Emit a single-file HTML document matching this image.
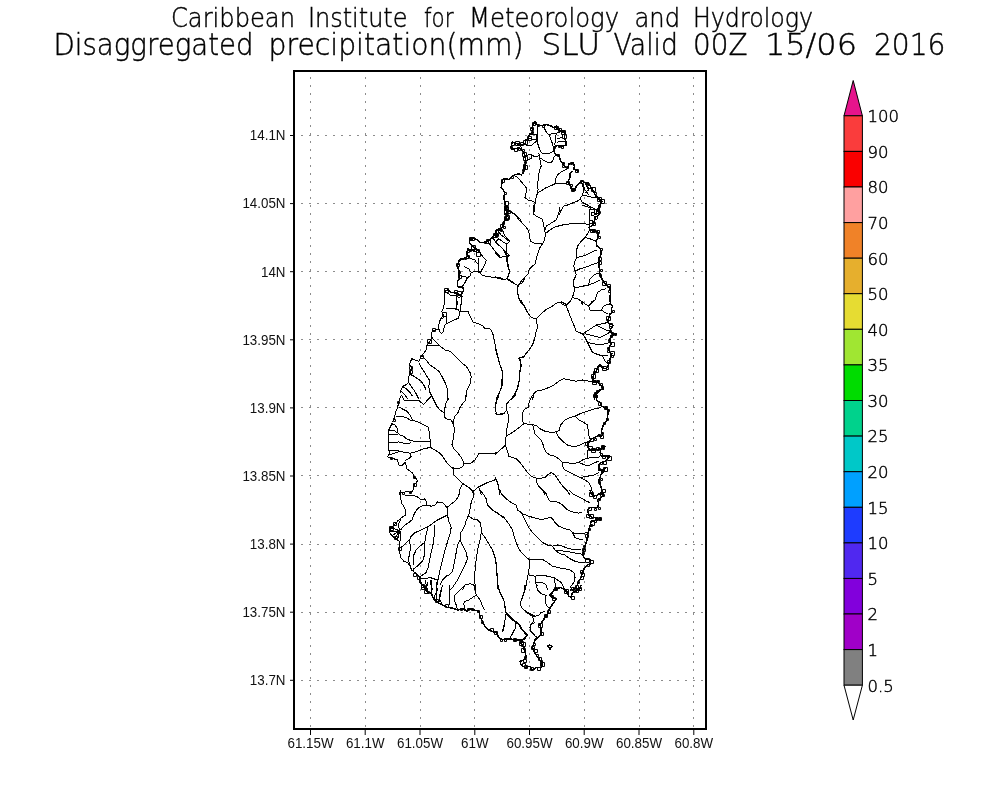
<!DOCTYPE html>
<html><head><meta charset="utf-8"><title>Disaggregated precipitation SLU</title>
<style>
html,body{margin:0;padding:0;background:#fff;width:1000px;height:800px;overflow:hidden}
svg{display:block}
.t{font-family:"DejaVu Sans","Liberation Sans",sans-serif;font-weight:200;fill:#000;stroke:#000;stroke-width:0.45}
.grid line{stroke:#8c8c8c;stroke-width:1;stroke-dasharray:2 6;shape-rendering:crispEdges}
.ticks line{stroke:#000;stroke-width:1}
.lab text{font-family:"Liberation Sans",sans-serif;font-size:14px;fill:#111}
.cbl text{font-family:"DejaVu Sans","Liberation Sans",sans-serif;font-weight:200;font-size:16.5px;fill:#000;stroke:#000;stroke-width:0.45}
.map path{fill:none;stroke:#000;stroke-width:1;stroke-linejoin:round;shape-rendering:crispEdges}
.map path.cs{stroke-width:1.5}
.map path.sq{shape-rendering:auto;stroke-width:1}
</style></head>
<body>
<svg width="1000" height="800" viewBox="0 0 1000 800">
<g id="title">
<text class="t" x="171.00" y="27.2" font-size="26" textLength="124.00" lengthAdjust="spacingAndGlyphs">Caribbean</text>
<text class="t" x="308.00" y="27.2" font-size="26" textLength="99.50" lengthAdjust="spacingAndGlyphs">Institute</text>
<text class="t" x="424.00" y="27.2" font-size="26" textLength="29.50" lengthAdjust="spacingAndGlyphs">for</text>
<text class="t" x="469.00" y="27.2" font-size="26" textLength="150.00" lengthAdjust="spacingAndGlyphs">Meteorology</text>
<text class="t" x="634.50" y="27.2" font-size="26" textLength="45.50" lengthAdjust="spacingAndGlyphs">and</text>
<text class="t" x="693.00" y="27.2" font-size="26" textLength="120.00" lengthAdjust="spacingAndGlyphs">Hydrology</text>
<text class="t" x="53.50" y="54.6" font-size="31" textLength="200.00" lengthAdjust="spacingAndGlyphs">Disaggregated</text>
<text class="t" x="268.50" y="54.6" font-size="31" textLength="255.00" lengthAdjust="spacingAndGlyphs">precipitation(mm)</text>
<text class="t" x="541.50" y="54.6" font-size="31" textLength="58.50" lengthAdjust="spacingAndGlyphs">SLU</text>
<text class="t" x="613.50" y="54.6" font-size="31" textLength="64.50" lengthAdjust="spacingAndGlyphs">Valid</text>
<text class="t" x="693.00" y="54.6" font-size="31" textLength="54.50" lengthAdjust="spacingAndGlyphs">00Z</text>
<text class="t" x="765.00" y="54.6" font-size="31" textLength="92.00" lengthAdjust="spacingAndGlyphs">15/06</text>
<text class="t" x="874.00" y="54.6" font-size="31" textLength="71.50" lengthAdjust="spacingAndGlyphs">2016</text>
</g>
<g class="grid">
<line x1="310.5" y1="77.3" x2="310.5" y2="728"/>
<line x1="365.5" y1="77.3" x2="365.5" y2="728"/>
<line x1="420.5" y1="77.3" x2="420.5" y2="728"/>
<line x1="474.5" y1="77.3" x2="474.5" y2="728"/>
<line x1="529.5" y1="77.3" x2="529.5" y2="728"/>
<line x1="584.5" y1="77.3" x2="584.5" y2="728"/>
<line x1="639.5" y1="77.3" x2="639.5" y2="728"/>
<line x1="693.5" y1="77.3" x2="693.5" y2="728"/>
<line x1="293" y1="135.5" x2="705" y2="135.5"/>
<line x1="293" y1="203.5" x2="705" y2="203.5"/>
<line x1="293" y1="271.5" x2="705" y2="271.5"/>
<line x1="293" y1="339.5" x2="705" y2="339.5"/>
<line x1="293" y1="407.5" x2="705" y2="407.5"/>
<line x1="293" y1="475.5" x2="705" y2="475.5"/>
<line x1="293" y1="544.5" x2="705" y2="544.5"/>
<line x1="293" y1="612.5" x2="705" y2="612.5"/>
<line x1="293" y1="680.5" x2="705" y2="680.5"/>
</g>
<g class="ticks">
<line x1="310.5" y1="729" x2="310.5" y2="735"/>
<line x1="365.2" y1="729" x2="365.2" y2="735"/>
<line x1="420.0" y1="729" x2="420.0" y2="735"/>
<line x1="474.8" y1="729" x2="474.8" y2="735"/>
<line x1="529.5" y1="729" x2="529.5" y2="735"/>
<line x1="584.2" y1="729" x2="584.2" y2="735"/>
<line x1="639.0" y1="729" x2="639.0" y2="735"/>
<line x1="693.8" y1="729" x2="693.8" y2="735"/>
<line x1="290" y1="135.5" x2="294" y2="135.5"/>
<line x1="290" y1="203.6" x2="294" y2="203.6"/>
<line x1="290" y1="271.7" x2="294" y2="271.7"/>
<line x1="290" y1="339.8" x2="294" y2="339.8"/>
<line x1="290" y1="407.9" x2="294" y2="407.9"/>
<line x1="290" y1="476.0" x2="294" y2="476.0"/>
<line x1="290" y1="544.1" x2="294" y2="544.1"/>
<line x1="290" y1="612.2" x2="294" y2="612.2"/>
<line x1="290" y1="680.3" x2="294" y2="680.3"/>
</g>
<g class="lab">
<text x="310.5" y="748" text-anchor="middle" textLength="46.1" lengthAdjust="spacingAndGlyphs">61.15W</text>
<text x="365.2" y="748" text-anchor="middle" textLength="38.6" lengthAdjust="spacingAndGlyphs">61.1W</text>
<text x="420.0" y="748" text-anchor="middle" textLength="46.1" lengthAdjust="spacingAndGlyphs">61.05W</text>
<text x="474.8" y="748" text-anchor="middle" textLength="27.5" lengthAdjust="spacingAndGlyphs">61W</text>
<text x="529.5" y="748" text-anchor="middle" textLength="46.1" lengthAdjust="spacingAndGlyphs">60.95W</text>
<text x="584.2" y="748" text-anchor="middle" textLength="38.6" lengthAdjust="spacingAndGlyphs">60.9W</text>
<text x="639.0" y="748" text-anchor="middle" textLength="46.1" lengthAdjust="spacingAndGlyphs">60.85W</text>
<text x="693.8" y="748" text-anchor="middle" textLength="38.6" lengthAdjust="spacingAndGlyphs">60.8W</text>
<text x="285.5" y="140.3" text-anchor="end" textLength="35.7" lengthAdjust="spacingAndGlyphs">14.1N</text>
<text x="285.5" y="208.4" text-anchor="end" textLength="43.1" lengthAdjust="spacingAndGlyphs">14.05N</text>
<text x="285.5" y="276.5" text-anchor="end" textLength="24.5" lengthAdjust="spacingAndGlyphs">14N</text>
<text x="285.5" y="344.6" text-anchor="end" textLength="43.1" lengthAdjust="spacingAndGlyphs">13.95N</text>
<text x="285.5" y="412.7" text-anchor="end" textLength="35.7" lengthAdjust="spacingAndGlyphs">13.9N</text>
<text x="285.5" y="480.8" text-anchor="end" textLength="43.1" lengthAdjust="spacingAndGlyphs">13.85N</text>
<text x="285.5" y="548.9" text-anchor="end" textLength="35.7" lengthAdjust="spacingAndGlyphs">13.8N</text>
<text x="285.5" y="617.0" text-anchor="end" textLength="43.1" lengthAdjust="spacingAndGlyphs">13.75N</text>
<text x="285.5" y="685.1" text-anchor="end" textLength="35.7" lengthAdjust="spacingAndGlyphs">13.7N</text>
</g>
<g class="cb">
<polygon points="844,115.8 853.2,80.5 862.4,115.8" fill="#e6148c" stroke="#000" stroke-width="1"/>
<rect x="844" y="115.8" width="18.4" height="35.6" fill="#fa3c3c" stroke="#000" stroke-width="1"/>
<rect x="844" y="151.4" width="18.4" height="35.6" fill="#fa0000" stroke="#000" stroke-width="1"/>
<rect x="844" y="187.0" width="18.4" height="35.6" fill="#ffa0a0" stroke="#000" stroke-width="1"/>
<rect x="844" y="222.6" width="18.4" height="35.6" fill="#f08228" stroke="#000" stroke-width="1"/>
<rect x="844" y="258.2" width="18.4" height="35.6" fill="#e6af2d" stroke="#000" stroke-width="1"/>
<rect x="844" y="293.7" width="18.4" height="35.6" fill="#e6dc32" stroke="#000" stroke-width="1"/>
<rect x="844" y="329.3" width="18.4" height="35.6" fill="#a0e632" stroke="#000" stroke-width="1"/>
<rect x="844" y="364.9" width="18.4" height="35.6" fill="#00dc00" stroke="#000" stroke-width="1"/>
<rect x="844" y="400.5" width="18.4" height="35.6" fill="#00d28c" stroke="#000" stroke-width="1"/>
<rect x="844" y="436.1" width="18.4" height="35.6" fill="#00c8c8" stroke="#000" stroke-width="1"/>
<rect x="844" y="471.7" width="18.4" height="35.6" fill="#00a0ff" stroke="#000" stroke-width="1"/>
<rect x="844" y="507.3" width="18.4" height="35.6" fill="#1e3cff" stroke="#000" stroke-width="1"/>
<rect x="844" y="542.9" width="18.4" height="35.6" fill="#5028f0" stroke="#000" stroke-width="1"/>
<rect x="844" y="578.4" width="18.4" height="35.6" fill="#8200dc" stroke="#000" stroke-width="1"/>
<rect x="844" y="614.0" width="18.4" height="35.6" fill="#a000c8" stroke="#000" stroke-width="1"/>
<rect x="844" y="649.6" width="18.4" height="35.6" fill="#808080" stroke="#000" stroke-width="1"/>
<polygon points="844,685.2 853.2,720 862.4,685.2" fill="#fff" stroke="#000" stroke-width="1"/>
</g>
<g class="cbl">
<text x="867.5" y="122.1">100</text>
<text x="867.5" y="157.7">90</text>
<text x="867.5" y="193.3">80</text>
<text x="867.5" y="228.9">70</text>
<text x="867.5" y="264.5">60</text>
<text x="867.5" y="300.0">50</text>
<text x="867.5" y="335.6">40</text>
<text x="867.5" y="371.2">35</text>
<text x="867.5" y="406.8">30</text>
<text x="867.5" y="442.4">25</text>
<text x="867.5" y="478.0">20</text>
<text x="867.5" y="513.6">15</text>
<text x="867.5" y="549.1">10</text>
<text x="867.5" y="584.7">5</text>
<text x="867.5" y="620.3">2</text>
<text x="867.5" y="655.9">1</text>
<text x="867.5" y="691.5">0.5</text>
</g>
<g class="map" id="map">
<path class="ln" d="M537.8 126.2 L537.8 129.4 L537.0 133.4 L537.0 139.0 L537.8 143.8 L539.4 148.6 L541.0 151.8 L542.6 153.4 L548.2 153.4 L551.4 152.6 L553.0 151.0 L553.4 147.0 L552.2 143.0 L550.6 139.0 L549.4 135.0 L546.6 132.6 L545.0 129.4 L544.2 127.0 M549.4 134.6 L553.0 133.4 L556.2 133.4 L561.0 131.8 M556.2 133.4 L555.4 140.6 L554.6 145.4 M557.0 139.0 L561.0 137.8 L564.6 138.2 M557.0 142.2 L561.0 141.4 L565.4 141.8 M529.8 134.2 L536.2 134.2 L536.2 139.0 L531.4 139.0 L528.6 137.8 M525.8 145.4 L531.4 145.4 L536.2 141.4 L537.0 139.0 M525.8 155.8 L530.6 154.2 L532.2 155.8 L537.0 156.6 L538.6 155.8 L540.2 153.4 M526.0 160.6 L529.0 159.8 L531.4 158.2 L531.4 155.8 M519.4 144.6 L521.0 147.0 L521.8 150.2 M538.8 152.5 L539.4 157.5 L540.6 162.5 L541.2 166.2 L539.4 170.0 L538.8 175.0 L538.1 180.0 L537.5 185.0 L538.1 190.0 L536.9 195.0 L535.6 200.0 L535.0 203.8 L534.4 207.5 L533.8 215.0 M539.4 157.5 L545.0 161.2 L550.0 163.1 L552.5 161.2 L553.8 157.5 L556.2 155.0 M538.1 192.5 L542.5 190.0 L546.2 187.5 L550.0 186.2 L555.0 183.8 L555.6 178.8 L557.5 175.0 L561.2 171.9 L565.0 170.0 L567.5 168.8 M555.0 183.8 L561.2 183.1 L566.9 183.1 L568.8 181.2 M513.8 175.0 L517.5 177.5 L520.0 180.0 L523.8 185.0 L526.2 187.5 L526.2 192.5 L525.0 197.5 L528.1 200.0 L532.5 201.2 L535.0 202.5 M505.0 207.5 L508.8 210.0 L512.5 213.8 M581.2 181.2 L582.5 185.0 L583.8 190.0 L582.5 195.0 L580.0 198.8 L577.5 201.2 L573.8 202.5 L567.5 205.0 L563.8 206.2 L561.2 210.0 L559.4 215.0 M582.5 195.0 L587.5 196.2 L592.5 197.5 L597.5 197.5 L600.6 201.2 M580.0 198.8 L582.5 202.5 L587.5 205.0 L591.2 207.5 L595.0 208.8 M585.0 182.5 L587.5 187.5 L588.8 190.0 L585.0 192.5 M587.5 187.5 L591.2 188.8 L593.8 192.5 M568.8 490.0 L572.5 493.8 L577.5 496.2 L582.5 498.8 L586.2 501.2 L590.0 502.5 M543.1 490.0 L546.2 493.8 L547.5 497.5 L550.0 501.2 L553.8 501.2 L558.8 502.5 L562.5 505.0 L566.2 508.8 L570.0 511.2 L575.0 512.5 L578.8 513.1 L582.5 512.5 M495.0 557.5 L496.2 565.0 L497.5 577.5 L498.1 590.0 M495.0 511.2 L500.0 515.0 L505.0 518.8 L508.8 523.8 L512.5 530.0 L513.8 535.0 L516.2 542.5 L518.8 548.8 L522.5 553.8 L526.2 557.5 L530.0 560.0 M500.0 490.0 L501.2 493.8 L506.2 498.8 L511.2 502.5 L516.2 505.0 L517.5 510.0 L521.2 512.5 L522.5 513.8 M522.5 513.8 L528.8 516.2 L535.0 518.1 L541.2 519.4 L546.2 518.8 L550.0 516.9 L552.5 518.8 L555.0 522.5 L558.8 526.2 L565.0 528.8 L570.0 530.0 L572.5 532.5 L575.0 533.8 L580.0 533.8 L585.0 533.1 L587.5 532.5 M572.5 532.5 L575.0 537.5 L580.0 539.4 L582.5 540.0 M521.2 512.5 L523.8 517.5 L526.2 522.5 L528.8 527.5 L532.5 532.5 L537.5 537.5 L542.5 542.5 L547.5 545.0 L552.5 546.2 L555.0 550.0 L560.0 553.8 L565.0 555.0 L570.0 558.8 L575.0 561.2 L580.0 562.5 L585.0 562.5 M552.5 546.2 L557.5 545.0 L562.5 546.2 L568.8 548.8 L575.0 549.4 L581.2 550.0 M555.0 550.0 L565.0 551.2 L572.5 552.5 L580.0 553.8 L582.5 554.4 M530.0 560.0 L536.2 559.4 L542.5 559.4 L547.5 562.5 L552.5 566.2 L557.5 567.5 L565.0 568.8 L570.0 570.0 L573.8 572.5 L575.0 577.5 L573.8 582.5 L570.0 587.5 M530.0 560.0 L529.4 565.0 L528.8 571.2 L527.5 577.5 L526.2 583.8 L525.6 590.0 M529.4 575.0 L535.0 576.2 L541.2 575.0 L547.5 576.2 L553.8 577.5 L557.5 580.0 L561.2 582.5 L563.8 587.5 L565.0 590.0 M535.0 576.2 L535.0 582.5 L537.5 586.2 M536.2 582.5 L542.5 582.5 L546.2 585.0 L547.5 590.0 M553.8 577.5 L555.0 582.5 L556.2 590.0 M436.2 585.0 L437.5 590.0 L435.0 595.0 L433.8 598.8 M442.5 585.0 L441.2 591.2 L440.0 597.5 L438.8 602.5 M450.0 585.0 L449.4 592.5 L450.0 600.0 L448.8 606.2 M465.0 585.0 L460.0 590.0 L455.0 595.0 L454.4 600.0 L456.2 605.0 L457.5 610.0 M473.8 585.0 L475.0 590.0 L476.2 595.0 L472.5 597.5 L468.8 600.0 L465.0 601.2 L463.8 603.8 L465.0 608.8 M476.2 595.0 L479.4 598.8 L481.2 602.5 L483.1 607.5 L485.0 610.0 M498.1 585.0 L500.0 592.5 L503.8 600.0 L505.0 607.5 L506.2 612.5 L505.0 620.0 L503.8 628.8 L502.5 632.5 M506.2 612.5 L510.0 616.2 L513.8 620.0 L517.5 622.5 L520.0 625.0 L522.5 630.0 L526.2 635.0 L525.0 638.8 L520.0 641.2 M516.2 622.5 L515.0 628.8 L512.5 632.5 L510.0 638.8 M525.6 585.0 L523.8 592.5 L521.2 600.0 L520.0 603.8 L522.5 608.8 L527.5 612.5 L532.5 615.0 L535.0 616.2 M535.0 622.5 L530.0 625.0 L530.0 630.0 L532.5 632.5 L535.0 635.0 M497.5 585.0 L500.0 592.5 L503.8 600.0 L505.0 606.2 L505.6 611.2 L506.2 613.8 L505.0 620.0 L503.8 626.2 L502.5 631.2 M506.2 613.8 L510.0 617.5 L512.5 620.0 L516.2 622.5 L518.8 625.0 L521.2 628.8 L525.0 632.5 L527.5 635.0 L525.0 637.5 L521.2 640.0 M516.2 622.5 L515.0 628.8 L512.5 633.8 L510.0 637.5 L510.0 638.8 M525.0 585.0 L524.4 591.2 L522.5 597.5 L520.6 602.5 L521.2 607.5 L525.0 611.2 L528.8 613.8 L532.5 616.2 L535.0 616.2 L538.8 615.0 L541.2 612.5 L545.0 611.2 M532.5 616.2 L533.8 621.2 L531.2 623.8 L530.0 627.5 L531.2 632.5 L535.0 636.2 L537.5 637.5 M536.2 585.0 L537.5 590.0 L541.2 593.8 L545.0 595.0 L547.5 596.2 M545.0 595.0 L545.0 600.0 L546.2 605.0 L548.8 607.5 M446.2 313.2 L446.2 323.8 L444.5 325.5 L443.6 330.8 L441.9 333.4 L440.1 332.5 L438.8 329.0 M442.0 319.0 L445.0 316.0 M590.0 209.5 L589.3 218.0 L589.0 226.0 M590.0 209.5 L599.0 209.0 M591.0 212.0 L594.0 212.0 L594.0 215.0 L591.0 215.0 L591.0 212.0 M594.0 216.0 L597.0 216.0 L597.0 219.0 L594.0 219.0 L594.0 216.0 M590.0 220.0 L592.0 220.0 L592.0 223.0 L590.0 223.0 M583.0 184.0 L585.0 190.0 L589.0 195.0 M390.0 527.0 L400.0 531.0 L389.0 532.0 M391.0 536.0 L400.0 531.0 L394.0 539.0 M397.0 541.0 L400.0 531.0 L400.0 541.0 M401.0 519.0 L398.0 525.0 L400.0 531.0 M420.0 580.0 L424.0 588.0 M428.0 582.0 L426.0 590.0 L428.0 594.0 M432.0 580.0 L431.0 590.0 L433.0 598.0 M437.0 582.0 L436.0 592.0 L437.0 600.0 M441.0 590.0 L439.0 598.0 L442.0 604.0 M560.0 207.5 L558.8 212.5 L556.2 220.0 L550.0 223.8 L546.2 226.2 L545.0 230.0 M582.5 205.0 L587.5 206.9 L591.2 208.8 M533.8 205.0 L533.8 213.8 L536.2 216.2 L541.9 218.8 L543.1 222.5 L544.4 228.8 L545.6 235.0 L544.4 240.0 L542.5 243.8 L540.0 247.5 L538.1 252.5 L536.2 258.8 L535.0 263.8 L532.5 266.2 L529.4 268.8 L528.1 273.8 L524.4 277.5 L521.2 281.2 L518.1 285.6 L517.5 291.2 L518.8 297.5 L521.2 302.5 L522.5 305.0 M545.0 233.8 L550.0 230.0 L555.0 226.9 L562.5 225.0 L570.0 223.8 L580.0 223.1 L585.0 223.8 L588.8 225.0 L590.0 226.9 M542.5 243.8 L537.5 243.8 L532.5 242.5 L530.6 241.2 L529.4 236.2 L528.8 231.2 L526.2 227.5 L522.5 223.8 L520.0 218.8 L516.2 215.0 L512.5 212.5 L508.8 211.2 L507.5 210.0 M496.2 230.0 L502.5 230.0 L505.0 236.2 L510.0 241.2 L506.9 243.8 L503.8 242.5 L498.8 238.8 L495.0 242.5 M495.0 242.5 L500.0 246.2 L503.8 250.0 L506.2 255.0 L508.8 256.2 L505.0 256.2 L500.0 257.5 L497.5 255.0 L495.0 252.5 M506.9 256.2 L507.5 262.5 L508.8 267.5 L509.4 272.5 L507.5 277.5 L505.0 280.0 L502.5 278.8 L500.0 277.5 L495.0 276.9 M507.5 278.8 L511.2 281.2 L515.0 283.8 L518.1 285.6 M590.0 228.8 L587.5 233.8 L585.0 237.5 L581.2 241.2 L577.5 246.2 L576.2 252.5 L576.9 257.5 L575.0 261.2 L573.8 266.2 L575.0 271.2 L576.2 275.0 L573.8 280.0 L573.1 285.0 L575.0 288.1 L573.8 292.5 L572.5 297.5 L570.0 301.2 L567.5 305.0 M576.9 257.5 L582.5 256.2 L588.8 253.8 L593.8 251.2 L596.9 250.0 M585.0 237.5 L590.0 238.8 L596.2 241.2 M575.0 271.2 L580.0 268.8 L585.0 267.5 L591.2 265.0 L595.0 263.8 L598.8 262.5 M575.0 288.1 L582.5 286.2 L588.8 285.0 L593.8 283.1 L600.0 280.0 M588.8 285.0 L589.4 280.0 L592.5 276.2 L596.2 273.8 L600.0 273.1 M572.5 297.5 L577.5 298.8 L581.2 301.2 L582.5 305.0 M553.8 305.0 L557.5 302.5 L561.2 301.9 L565.0 303.8 L567.5 305.0 M590.0 305.0 L595.0 300.0 L597.5 292.5 L601.2 290.0 L606.2 288.8 M507.5 210.0 L512.5 212.5 L516.2 216.2 L520.0 221.2 L525.0 226.2 M496.9 230.0 L501.2 235.0 L506.2 238.8 L510.0 241.9 M492.5 237.5 L496.2 242.5 L500.0 246.2 L503.8 250.0 L508.8 255.0 M487.5 241.2 L491.2 246.2 L495.0 251.2 L498.8 255.0 L500.0 257.5 L506.2 256.2 L510.0 255.0 M506.2 242.5 L506.2 257.5 L507.5 265.0 L509.4 271.2 L508.8 275.0 L506.9 278.8 L510.0 281.2 L515.0 283.8 L518.1 285.6 L522.5 282.5 L525.0 277.5 M518.1 285.6 L517.5 292.5 L518.8 298.8 L522.5 305.0 M480.0 272.5 L482.5 275.6 L490.0 276.9 L497.5 278.1 L500.0 278.8 L503.8 280.0 L506.9 278.8 M480.0 252.5 L482.5 256.2 L486.2 260.0 L485.0 263.8 L483.1 267.5 L481.2 271.2 L480.0 272.5 M478.8 257.5 L478.8 263.8 L478.8 271.2 L480.0 272.5 M467.5 256.2 L471.2 258.8 L475.0 260.0 L476.2 262.5 L478.1 263.8 M463.8 266.2 L468.8 268.8 L471.2 272.5 L476.2 271.2 L480.0 272.5 M458.8 275.0 L462.5 276.2 L467.5 277.5 L470.0 276.2 L471.2 272.5 M467.5 277.5 L465.0 282.5 L462.5 286.2 M445.0 291.2 L450.0 295.0 L455.0 295.0 L458.8 297.5 L462.5 296.2 M456.2 292.5 L456.9 300.0 L457.5 305.0 M461.2 295.0 L461.2 305.0 M456.9 300.0 L456.9 308.8 M446.2 308.8 L452.5 308.1 L458.8 310.0 L459.4 312.5 L458.8 318.1 L452.5 320.6 L446.2 323.8 M460.6 303.8 L460.0 311.2 L468.1 311.2 L470.0 316.2 L473.1 321.9 L478.1 323.8 L482.5 325.6 L485.0 328.8 L490.0 328.8 L492.5 332.5 L493.8 337.5 L495.0 343.8 L496.2 350.0 L498.1 357.5 L500.0 365.0 L502.5 371.2 L502.5 380.0 L501.9 387.5 L499.4 392.5 L497.5 397.5 L496.9 400.0 M520.0 300.0 L525.0 306.2 M431.9 337.5 L436.2 342.5 L440.0 346.2 L445.0 350.0 L450.0 351.2 L453.8 355.0 L457.5 358.8 L461.2 362.5 L466.2 366.2 L470.0 372.5 L471.2 376.2 L470.6 382.5 L468.1 387.5 L466.2 392.5 L465.6 400.0 M428.1 345.0 L438.8 345.0 L440.0 346.2 M422.5 356.2 L426.2 360.0 L430.0 365.0 L433.8 367.5 L438.8 371.2 L441.2 375.0 L443.8 380.0 L446.2 385.0 L447.5 390.0 L448.1 400.0 M418.8 362.5 L421.2 367.5 L423.8 371.2 L426.9 376.2 L429.4 380.0 L428.8 387.5 L430.0 392.5 L432.5 397.5 L433.8 400.0 M409.4 373.8 L413.8 376.2 L417.5 378.8 L421.2 381.2 L423.8 385.0 L426.2 390.0 M408.8 382.5 L411.2 386.2 L413.8 390.0 L416.2 393.8 L418.8 398.8 M402.5 386.2 L406.2 388.8 L410.0 392.5 L412.5 396.2 M401.2 391.2 L405.0 395.0 L407.5 398.8 M518.8 357.5 L525.0 356.9 M518.8 357.5 L520.6 362.5 L520.0 370.0 L519.4 377.5 L518.8 385.0 L516.9 390.0 L513.8 395.0 L511.2 400.0 M520.6 300.0 L523.8 305.0 L527.5 312.5 L531.2 317.5 L536.2 318.8 L541.2 313.8 L546.2 309.4 L551.2 306.9 L556.2 303.1 L560.0 302.5 L563.8 305.0 L566.2 305.6 L571.2 300.0 M536.2 318.8 L537.5 327.5 L536.2 331.2 L535.0 337.5 L532.5 345.0 L528.8 350.0 L525.0 355.0 L521.9 357.5 L518.8 358.1 L520.6 360.0 L521.2 366.2 L520.0 372.5 L519.4 380.0 L517.5 387.5 L515.0 395.0 L511.2 400.0 M495.0 347.5 L497.5 356.2 L500.0 365.0 L502.5 372.5 L501.9 381.2 L501.2 387.5 L498.8 393.8 L497.5 400.0 M566.2 305.6 L568.8 312.5 L571.2 318.8 L573.8 325.0 L576.2 331.2 L582.5 333.8 L585.0 337.5 L587.5 342.5 L590.0 347.5 L592.5 352.5 L598.8 355.0 L602.5 356.2 L605.0 361.2 L608.8 365.0 M580.0 300.0 L585.0 303.8 L588.8 306.2 L590.0 310.0 L595.0 310.0 L601.2 310.0 L605.0 312.5 L608.1 313.8 M588.8 306.2 L591.2 302.5 L593.8 300.0 M601.2 310.0 L603.8 306.2 L607.5 304.4 L610.6 303.8 M582.5 333.8 L588.8 330.0 L596.2 325.0 L602.5 323.8 L607.5 322.5 M596.2 325.0 L601.2 327.5 L606.2 330.0 L610.0 331.2 M585.0 333.8 L592.5 335.6 L600.0 337.5 L605.0 335.0 L609.4 332.5 M587.5 342.5 L593.8 343.8 L600.0 345.0 L605.0 343.8 L610.0 342.5 M592.5 352.5 L600.0 355.0 L607.5 355.0 M532.5 400.0 L533.8 393.8 L536.2 391.2 L542.5 390.0 L548.8 387.5 L553.8 385.0 L558.8 381.2 L563.8 378.8 L570.0 380.0 L576.2 381.2 L582.5 380.0 L588.8 381.2 L592.5 381.9 M402.5 396.2 L403.8 400.0 L412.5 400.0 L418.8 400.6 L423.8 404.4 L427.5 400.0 L431.2 396.2 M407.5 398.8 L405.0 395.0 M412.5 396.2 L411.2 395.0 M418.8 398.8 L416.2 395.0 M431.2 395.0 L433.8 400.0 L436.9 406.2 L440.0 410.0 L443.8 412.5 L445.0 417.5 L447.5 419.4 L451.2 420.0 L453.1 423.8 L454.4 428.8 L453.8 435.0 L453.1 440.0 L451.9 445.0 L453.8 448.8 L457.5 452.5 L461.2 457.5 L463.8 462.5 L463.1 466.2 L460.0 468.1 L455.0 468.8 L452.5 467.5 M447.5 395.0 L448.1 398.8 L446.2 402.5 L445.0 407.5 L444.4 412.5 M466.2 395.0 L465.6 400.0 L462.5 403.8 L460.0 407.5 L458.1 412.5 L455.0 416.2 L453.8 420.0 L453.1 423.8 M497.5 395.0 L496.2 402.5 L495.6 407.5 L496.2 413.8 L500.0 415.0 L503.8 413.8 L505.0 413.1 M399.4 406.9 L403.1 409.4 L406.9 411.2 L410.0 415.0 L412.5 420.0 L417.5 421.9 L422.5 424.4 L428.1 426.9 L429.4 432.5 L430.0 438.8 L430.6 447.5 L435.0 450.0 L438.8 452.5 L442.5 456.2 L445.0 460.0 L447.5 463.8 L450.0 466.2 L453.8 468.8 L453.8 475.0 L457.5 478.8 L461.2 482.5 L465.0 485.0 L468.8 487.5 L472.5 491.2 L473.8 495.0 M395.6 416.2 L401.2 416.2 L406.2 417.5 L410.0 420.0 L412.5 420.6 M391.2 423.8 L395.0 425.0 L396.9 427.5 L397.5 432.5 L400.0 435.0 L403.8 436.2 L406.2 438.8 L411.2 440.6 L417.5 441.9 L422.5 441.2 L427.5 441.2 L430.0 441.9 M388.8 430.0 L393.8 430.0 L396.9 432.5 M388.8 435.0 L392.5 434.4 L397.5 435.0 M389.4 442.5 L393.8 442.5 L398.8 441.9 L403.8 443.1 L407.5 443.8 L411.2 442.5 M389.4 450.0 L395.0 450.0 L400.0 451.2 L405.0 452.5 L410.0 453.1 L413.8 452.5 L418.8 450.6 L423.8 448.8 L430.0 447.5 M389.4 455.0 L392.5 453.8 L396.2 452.5 L398.8 451.9 M410.0 453.1 L411.2 456.2 L408.8 458.8 L406.2 460.0 L404.4 461.2 M463.8 463.1 L470.0 463.8 L475.0 460.0 L478.8 453.8 L486.2 453.8 L492.5 453.8 L497.5 452.5 L501.2 448.8 L505.0 445.6 M462.5 483.8 L460.0 488.8 L459.4 495.0 M473.8 491.2 L477.5 487.5 L482.5 485.0 L487.5 482.5 L491.2 481.2 L496.2 479.4 L497.5 482.5 L498.8 487.5 L500.0 493.8 M478.8 487.5 L480.0 491.2 L481.2 495.0 M516.2 395.0 L510.0 400.0 L506.9 403.8 L506.2 407.5 L507.5 412.5 L508.8 416.2 L508.1 422.5 L506.9 428.8 L506.2 436.2 L505.0 441.2 L505.6 446.2 M497.5 395.0 L496.2 401.2 L495.0 405.0 M495.0 413.8 L498.8 414.4 L503.8 413.1 L506.2 411.2 M532.5 395.0 L530.0 400.0 L528.8 403.8 L528.1 407.5 L525.0 408.8 L523.1 411.2 L522.5 417.5 L523.1 422.5 L523.8 423.8 M523.8 423.8 L532.5 424.4 L537.5 426.2 L540.0 428.8 L545.0 431.2 L551.2 432.5 L556.2 431.9 L559.4 430.0 L560.6 425.0 L565.0 420.0 L570.0 417.5 L575.0 416.2 L580.0 413.8 L585.0 411.9 L588.8 410.6 L595.0 408.8 L601.2 407.5 M523.8 423.8 L517.5 428.8 L512.5 432.5 L506.2 436.2 M505.6 446.2 L501.2 448.8 L497.5 452.5 L495.0 455.0 M505.6 446.2 L507.5 451.2 L508.8 456.2 L512.5 457.5 L516.2 458.8 L520.0 462.5 L523.8 467.5 L527.5 472.5 L531.2 476.2 L536.2 478.1 L541.2 478.1 L545.0 477.5 L547.5 475.0 L551.2 472.5 L555.0 475.0 L557.5 478.8 L560.0 482.5 L563.8 487.5 L567.5 491.2 L570.0 495.0 M536.2 478.1 L536.9 482.5 L538.8 486.2 L542.5 490.0 L545.0 495.0 M532.5 424.4 L533.8 428.8 L535.0 433.8 L540.0 438.8 L542.5 442.5 L543.8 447.5 L546.2 452.5 L550.0 455.0 L555.0 456.2 L558.8 458.8 L562.5 462.5 L570.0 463.1 L575.0 463.1 L578.8 462.5 L582.5 460.0 L587.5 458.1 L595.0 457.5 L600.0 456.9 M562.5 462.5 L563.1 467.5 L565.0 470.0 L570.0 472.5 L575.0 475.0 L580.0 477.5 L585.0 480.0 L588.8 482.5 L591.2 487.5 L592.5 492.5 L593.8 495.0 M556.2 432.5 L558.8 437.5 L562.5 441.2 L567.5 445.0 L573.8 446.9 L580.0 445.0 L585.0 442.5 L589.4 441.2 M575.0 416.2 L578.8 420.0 L583.8 422.5 L587.5 425.0 L588.1 430.0 L588.8 435.0 L589.4 438.8 M578.8 462.5 L585.0 465.0 L590.0 465.0 L595.0 462.5 L598.8 461.2 M580.0 477.5 L587.5 476.2 L593.8 475.0 L598.8 472.5 M587.5 450.0 L587.5 455.0 L587.5 458.1 M495.0 477.5 L497.5 482.5 L498.8 488.8 L500.0 495.0 M459.4 490.0 L458.8 496.2 L455.0 501.2 L450.0 505.0 L446.9 507.5 M473.1 490.0 L473.1 497.5 L471.2 502.5 L470.0 508.8 L468.8 515.0 L467.5 517.5 M480.0 490.0 L483.8 495.0 L486.2 498.8 L487.5 505.0 L492.5 510.0 L500.0 515.0 L505.0 517.5 M500.0 490.0 L501.2 493.8 L505.0 497.5 M405.0 495.0 L413.8 495.6 L418.8 497.5 L421.2 500.0 L424.4 498.8 L426.2 501.2 L426.9 505.0 L431.2 506.2 L435.0 505.0 L437.5 501.9 L442.5 502.5 L445.0 505.0 L446.9 507.5 L447.5 512.5 L447.5 515.0 M426.9 505.0 L421.2 506.2 L417.5 508.8 L415.0 512.5 L413.8 515.0 L411.9 520.0 L408.8 522.5 L405.0 525.0 L402.5 527.5 L400.6 530.0 M447.5 515.0 L442.5 517.5 L437.5 520.0 L433.8 522.5 L428.8 526.2 L423.8 528.8 L418.8 531.2 L415.0 532.5 L411.2 536.2 L409.4 540.0 L405.0 543.8 L401.2 547.5 M447.5 515.0 L448.8 521.2 L451.2 527.5 L450.0 533.8 L448.1 540.0 L446.2 546.2 L444.4 552.5 L442.5 560.0 L441.2 565.0 L440.0 570.0 L438.8 576.2 L437.5 582.5 L436.2 590.0 M428.1 526.9 L426.2 533.8 L425.0 541.2 L424.4 547.5 L424.4 555.0 L423.1 560.0 L421.2 562.5 L417.5 566.2 L413.8 568.8 L412.5 571.2 M435.0 525.0 L434.4 532.5 L433.8 540.0 L432.5 547.5 L430.6 555.0 L429.4 561.2 L428.1 567.5 L426.2 572.5 L422.5 575.0 L418.8 577.5 M409.4 540.0 L410.6 547.5 L409.4 555.0 L408.1 560.0 L410.0 565.0 L411.9 570.0 L413.8 571.2 M424.4 542.5 L420.0 546.2 L416.2 550.0 L413.8 555.0 L413.1 560.0 L413.8 565.0 M468.8 516.2 L466.2 520.0 L465.0 525.0 L462.5 530.0 L460.0 533.8 L460.0 540.0 L457.5 545.0 L456.2 552.5 L455.0 558.8 L453.8 565.0 L452.5 571.2 L448.8 575.0 L446.2 576.2 L442.5 580.0 L440.0 585.0 M460.0 540.0 L462.5 545.0 L466.2 552.5 L467.5 558.8 L465.0 565.0 L462.5 570.0 L460.0 575.0 L457.5 580.0 L455.0 583.8 L452.5 587.5 L450.0 590.0 M468.8 516.2 L472.5 518.8 L477.5 520.0 L480.0 522.5 L481.2 527.5 L481.2 532.5 L480.0 540.0 L478.8 545.0 L477.5 550.0 L476.9 555.0 L476.2 560.0 L475.0 565.0 L475.0 571.2 L474.4 577.5 L475.0 583.8 L475.6 590.0 M481.2 532.5 L485.0 537.5 L488.8 543.8 L492.5 550.0 L495.0 557.5 L496.2 562.5 L496.9 568.8 L496.9 575.0 L497.5 581.2 L498.1 590.0 M462.5 590.0 L465.0 585.0 L470.0 583.8 L473.8 585.0 L475.0 587.5 M418.8 577.5 L425.0 578.8 L430.0 577.5 L433.8 578.8 L437.5 580.0 M425.0 580.0 L426.2 585.0 L427.5 590.0 M430.0 580.0 L431.2 586.2 L432.5 590.0 M421.9 585.0 L426.2 590.0 M444.4 296.2 L445.0 305.0 M445.0 300.0 L444.5 302.8 L443.2 308.9 L441.9 311.5 L443.6 315.0 L441.0 318.5 L439.2 322.0 L438.8 327.2 L438.4 329.0 L435.8 329.9 L432.2 330.8 L431.4 334.2 L431.2 338.8 L430.0 341.2 L428.1 343.8 L426.2 346.9 L426.2 350.0 L424.4 352.5 L422.5 355.0 L420.6 357.5 L418.8 361.2 L415.0 360.0 L411.9 358.8 L410.6 361.2 L409.4 365.0 L411.9 367.5 L411.2 370.0 L409.4 373.8 L408.8 377.5 L408.8 382.5 L405.6 385.0 L402.5 386.2 L401.2 390.0 L400.0 392.5 M401.9 395.0 L399.4 398.8 L398.8 402.5 L397.5 407.5 L395.6 412.5 L394.4 417.5 L392.5 422.5 L390.6 426.2 L388.8 430.0 L388.8 435.0 L388.8 440.0 L388.8 445.0 L388.8 450.0 L389.4 453.8 L387.5 456.9 L390.0 457.5 L393.8 458.8 L397.5 460.0 L398.1 462.5 L399.4 465.6 L402.5 465.0 L405.0 462.5 L406.2 465.0 L406.9 468.8 L410.0 471.2 L412.5 473.1 L413.8 476.2 L416.2 478.8 L417.5 481.2 L415.0 483.8 L413.8 486.2 L413.1 490.0 L411.2 492.5 L406.2 491.2 L403.8 492.5 L400.0 492.5 L399.4 495.0 M400.6 490.0 L400.0 492.5 L400.0 497.5 L401.2 500.0 L401.9 503.8 L403.8 506.2 L405.0 508.8 L405.6 511.9 L405.6 515.0 L402.5 516.9 L400.0 518.8 L397.5 521.2 L393.8 525.0 L390.0 530.0 L389.4 532.5 L392.5 536.2 L396.2 538.8 L399.4 541.2 L400.0 545.0 L399.4 548.8 L400.0 553.8 L400.6 557.5 L403.8 561.2 L407.5 562.5 L410.0 566.2 L411.2 570.0 L415.0 572.5 L417.5 575.0 L419.4 577.5 L420.0 582.5 L422.5 585.0 L423.8 587.5 L425.0 590.0"/>
<path class="cs" d="M522.6 174.2 L523.8 171.0 L525.0 167.8 L525.4 164.6 L525.8 159.8 L525.0 156.6 L524.6 154.2 L523.4 151.8 L521.8 150.2 L519.4 147.8 L515.4 148.6 L512.2 149.4 L511.0 147.0 L512.2 142.2 L515.4 143.0 L519.4 144.6 L523.4 144.6 L525.4 143.0 L525.8 139.8 L528.2 139.0 L528.6 136.6 L529.8 134.2 L532.6 132.6 L532.2 128.6 L533.0 125.4 L535.4 121.4 L537.0 124.6 L538.6 125.4 L542.6 125.4 L546.6 124.6 L549.8 125.4 L551.4 126.2 L553.8 127.8 L556.2 126.2 L557.0 128.6 L559.4 130.2 L561.0 131.8 L564.2 131.8 L565.0 134.2 L564.2 138.2 L565.8 141.4 L565.8 145.4 L562.6 146.2 L557.0 145.4 L554.6 147.0 L553.8 150.2 L554.6 153.4 L557.0 155.0 L559.4 156.6 L560.2 159.8 L561.0 161.4 L563.4 164.6 L565.8 167.8 L568.2 167.0 L569.0 163.8 L573.0 163.0 L574.6 166.2 L573.8 169.4 L576.2 170.2 L577.8 171.0 M505.0 215.0 L504.4 210.0 L505.6 205.0 L504.4 201.2 L503.8 196.2 L505.0 192.5 L503.1 190.0 L501.2 187.5 L501.9 182.5 L502.5 179.4 L506.2 178.8 L508.8 179.4 L512.5 176.2 L514.4 175.0 L518.1 173.8 L521.9 175.0 M572.5 171.2 L570.0 173.8 L570.0 177.5 L568.8 180.0 L568.1 182.5 L570.0 185.0 L571.2 188.8 L573.1 190.0 L575.0 190.0 L576.2 186.2 L578.1 184.4 L581.2 181.2 L585.0 182.5 L588.1 183.1 L591.2 187.5 L593.8 192.5 L596.2 196.2 L600.0 200.0 L601.9 201.2 L600.6 203.8 L598.8 207.5 L597.5 210.0 L595.6 215.0 M590.0 490.0 L591.2 493.8 L593.8 496.2 L597.5 495.0 L601.2 492.5 L603.8 493.8 L601.2 497.5 L597.5 500.0 L598.8 503.8 L597.5 507.5 L593.8 507.5 L590.0 507.5 L587.5 510.0 L588.8 515.0 L592.5 517.5 L597.5 518.1 L601.2 519.4 L596.2 520.0 L591.2 521.2 L590.0 526.2 L588.8 530.0 L587.5 535.0 L586.9 540.0 L585.6 545.0 L583.8 550.0 L582.5 555.0 L585.0 558.8 L590.0 560.0 L590.6 563.8 L587.5 565.0 L585.0 567.5 L582.5 571.2 L581.2 577.5 L578.8 581.2 L577.5 585.0 L575.0 588.8 L570.0 590.0 M426.2 590.0 L431.2 593.8 L433.8 598.8 L437.5 602.5 L442.5 605.0 L447.5 607.5 L452.5 608.1 L457.5 610.0 L462.5 608.8 L467.5 611.2 L470.0 608.8 L473.8 610.0 L478.8 611.2 L480.0 616.2 L482.5 621.2 L485.0 626.2 L488.8 630.0 L493.8 631.9 L497.5 632.5 M581.2 585.0 L580.0 588.8 L576.2 591.2 L572.5 592.5 L571.2 597.5 L568.8 596.2 L567.5 592.5 L563.8 588.8 L560.0 587.5 L557.5 588.8 L553.8 590.0 L552.5 592.5 L550.0 595.0 L552.5 597.5 L556.2 598.8 L553.8 602.5 L551.2 606.2 L548.8 610.0 L547.5 613.8 L545.0 617.5 L542.5 621.2 L540.0 625.0 L541.2 630.0 L541.2 635.0 L537.5 637.5 L535.0 640.0 L533.8 643.8 L532.5 647.5 L533.8 651.2 L536.2 655.0 L538.8 658.8 L542.5 663.8 L541.2 667.5 L536.2 667.5 L532.5 670.0 L530.0 666.2 L525.0 667.5 L521.2 665.0 L520.0 661.2 L523.8 660.0 L526.2 656.2 L525.0 652.5 L523.8 647.5 L521.2 643.8 L520.0 640.0 L515.0 640.0 L510.0 638.8 L505.0 638.8 L502.5 640.0 L498.8 637.5 L496.2 632.5 L495.0 631.2 M547.5 646.2 L549.6 644.8 L551.9 646.5 L550.0 649.0 L547.5 646.2 M598.8 205.0 L599.4 208.8 L598.8 215.0 L595.0 217.5 L593.8 223.8 L591.2 226.2 L588.8 227.5 L590.6 230.0 L595.0 231.2 L598.1 232.5 L598.1 237.5 L596.2 241.2 L596.9 246.2 L600.0 248.1 L601.2 252.5 L600.6 256.2 L598.8 257.5 L598.8 263.8 L599.4 268.8 L600.0 275.0 L602.5 280.0 L605.0 283.8 L607.5 286.2 L610.0 287.5 L610.6 292.5 L610.0 297.5 L610.6 305.0 M506.9 205.0 L506.2 208.8 L507.5 211.2 L506.9 215.0 L505.0 218.8 L503.8 222.5 L502.5 227.5 L500.0 228.8 L497.5 229.4 L495.6 231.2 L496.2 235.0 L495.0 237.5 M506.2 205.0 L506.2 210.0 L507.5 215.0 L505.6 220.0 L503.8 222.5 L502.5 227.5 L500.0 228.8 L496.9 230.0 L495.6 233.8 L493.8 236.2 L491.2 238.8 L488.8 240.6 L486.2 241.9 L482.5 242.5 L480.0 242.5 L477.5 240.0 L475.0 238.8 L471.9 238.1 L469.4 240.0 L469.4 242.5 L471.2 245.0 L473.8 247.5 L477.5 250.0 L480.0 252.5 L477.5 252.5 L475.0 251.2 L471.2 250.0 L468.1 248.8 L466.9 252.5 L467.5 256.2 L463.8 258.8 L461.2 258.8 L458.8 261.2 L457.5 266.2 L458.8 270.0 L458.8 275.0 L459.4 278.8 L457.5 281.2 L457.5 286.2 L460.0 287.5 L462.5 286.2 L463.8 290.0 L462.5 292.5 L461.2 295.0 L457.5 293.8 L453.8 292.5 L451.2 292.5 L447.5 290.0 L445.0 291.2 L444.4 296.2 M610.0 300.0 L610.6 303.8 L612.5 306.2 L611.2 310.0 L612.5 312.5 L610.0 313.8 L608.8 317.5 L607.5 322.5 L611.9 324.4 L613.1 325.6 L610.6 328.8 L609.4 332.5 L612.5 333.1 L616.2 333.8 L613.8 335.0 L610.6 336.2 L610.0 340.0 L611.2 343.8 L608.8 347.5 L609.4 352.5 L611.9 353.8 L610.0 358.8 L608.8 363.8 L607.5 367.5 L605.0 368.8 L602.5 367.5 L600.0 365.0 L597.5 367.5 L596.2 371.2 L593.8 372.5 L593.1 377.5 L592.5 381.2 L595.0 382.5 L597.5 381.2 L600.0 385.0 L602.5 386.2 L603.8 388.8 L600.0 390.0 L597.5 392.5 L595.0 395.0 L594.4 400.0 M597.5 395.0 L596.2 400.0 L600.0 402.5 L601.2 406.2 L605.0 407.5 L607.5 408.8 L608.1 412.5 L607.5 417.5 L606.2 421.2 L603.8 423.8 L602.5 427.5 L601.2 431.2 L602.5 435.0 L600.6 436.2 L598.8 435.0 L595.0 437.5 L591.2 438.8 L590.0 441.2 L587.5 443.8 L588.1 447.5 L590.0 450.0 L595.0 450.0 L600.0 448.8 L603.8 446.2 L605.0 446.9 L601.2 448.8 L600.0 452.5 L601.2 456.2 L605.0 456.2 L610.0 456.2 L607.5 458.8 L605.0 461.2 L601.2 462.5 L598.8 465.0 L598.8 470.0 L602.5 470.0 L605.0 468.8 L603.8 471.2 L601.2 473.8 L600.0 477.5 L598.8 480.0 L600.0 483.8 L601.2 487.5 L602.5 492.5 L601.2 495.0"/>
<path class="sq" d="M522.5 169.5h2v2h-2zM523.5 165.5h4v4h-4zM523.5 164.5h2v2h-2zM524.5 161.5h2v2h-2zM523.5 156.5h4v4h-4zM522.5 152.5h4v4h-4zM522.5 149.5h2v2h-2zM518.5 148.5h2v2h-2zM514.5 148.5h3v3h-3zM510.5 146.5h2v2h-2zM511.5 142.5h3v3h-3zM515.5 141.5h4v4h-4zM520.5 142.5h3v3h-3zM523.5 140.5h4v4h-4zM527.5 136.5h4v4h-4zM531.5 131.5h2v2h-2zM530.5 127.5h3v3h-3zM532.5 122.5h3v3h-3zM537.5 124.5h2v2h-2zM542.5 125.5h2v2h-2zM554.5 126.5h3v3h-3zM556.5 126.5h2v2h-2zM558.5 128.5h3v3h-3zM561.5 130.5h4v4h-4zM562.5 134.5h4v4h-4zM561.5 146.5h2v2h-2zM558.5 145.5h2v2h-2zM553.5 146.5h2v2h-2zM557.5 154.5h2v2h-2zM562.5 162.5h2v2h-2zM562.5 165.5h2v2h-2zM566.5 166.5h2v2h-2zM570.5 162.5h2v2h-2zM575.5 169.5h3v3h-3zM504.5 208.5h2v2h-2zM504.5 201.5h4v4h-4zM504.5 192.5h2v2h-2zM501.5 179.5h3v3h-3zM511.5 176.5h2v2h-2zM566.5 181.5h3v3h-3zM570.5 184.5h2v2h-2zM571.5 188.5h3v3h-3zM573.5 188.5h2v2h-2zM580.5 180.5h3v3h-3zM587.5 183.5h2v2h-2zM591.5 187.5h4v4h-4zM594.5 192.5h2v2h-2zM597.5 197.5h4v4h-4zM600.5 199.5h4v4h-4zM598.5 205.5h2v2h-2zM594.5 209.5h4v4h-4zM589.5 492.5h4v4h-4zM593.5 495.5h3v3h-3zM600.5 493.5h3v3h-3zM602.5 494.5h2v2h-2zM598.5 498.5h2v2h-2zM598.5 507.5h2v2h-2zM594.5 508.5h2v2h-2zM588.5 507.5h3v3h-3zM586.5 514.5h3v3h-3zM589.5 514.5h4v4h-4zM598.5 517.5h3v3h-3zM594.5 520.5h2v2h-2zM590.5 521.5h4v4h-4zM590.5 524.5h2v2h-2zM588.5 528.5h2v2h-2zM585.5 534.5h3v3h-3zM583.5 545.5h2v2h-2zM582.5 548.5h3v3h-3zM582.5 552.5h2v2h-2zM585.5 558.5h4v4h-4zM590.5 560.5h3v3h-3zM587.5 564.5h2v2h-2zM580.5 570.5h3v3h-3zM581.5 573.5h3v3h-3zM580.5 576.5h3v3h-3zM577.5 581.5h2v2h-2zM575.5 585.5h3v3h-3zM571.5 587.5h3v3h-3zM421.5 585.5h4v4h-4zM424.5 590.5h3v3h-3zM427.5 591.5h2v2h-2zM435.5 599.5h3v3h-3zM445.5 604.5h3v3h-3zM460.5 608.5h2v2h-2zM467.5 608.5h2v2h-2zM471.5 608.5h2v2h-2zM477.5 610.5h2v2h-2zM479.5 615.5h3v3h-3zM481.5 621.5h2v2h-2zM490.5 628.5h3v3h-3zM578.5 587.5h3v3h-3zM575.5 589.5h3v3h-3zM571.5 596.5h3v3h-3zM564.5 589.5h4v4h-4zM554.5 587.5h3v3h-3zM551.5 595.5h2v2h-2zM552.5 597.5h3v3h-3zM547.5 610.5h3v3h-3zM544.5 614.5h3v3h-3zM538.5 623.5h4v4h-4zM540.5 632.5h3v3h-3zM533.5 643.5h2v2h-2zM531.5 646.5h3v3h-3zM534.5 649.5h3v3h-3zM536.5 654.5h2v2h-2zM538.5 657.5h3v3h-3zM540.5 660.5h2v2h-2zM540.5 662.5h4v4h-4zM537.5 667.5h3v3h-3zM530.5 667.5h3v3h-3zM524.5 665.5h3v3h-3zM522.5 663.5h3v3h-3zM523.5 659.5h3v3h-3zM524.5 656.5h2v2h-2zM521.5 648.5h4v4h-4zM521.5 642.5h4v4h-4zM519.5 641.5h4v4h-4zM513.5 638.5h3v3h-3zM504.5 639.5h2v2h-2zM500.5 639.5h2v2h-2zM494.5 631.5h3v3h-3zM598.5 211.5h2v2h-2zM592.5 222.5h3v3h-3zM590.5 229.5h3v3h-3zM592.5 229.5h3v3h-3zM596.5 230.5h3v3h-3zM598.5 236.5h2v2h-2zM600.5 248.5h2v2h-2zM598.5 257.5h3v3h-3zM598.5 261.5h3v3h-3zM600.5 269.5h2v2h-2zM599.5 274.5h2v2h-2zM602.5 281.5h4v4h-4zM607.5 284.5h3v3h-3zM608.5 290.5h2v2h-2zM505.5 206.5h2v2h-2zM507.5 210.5h3v3h-3zM504.5 216.5h4v4h-4zM502.5 222.5h2v2h-2zM500.5 224.5h3v3h-3zM500.5 229.5h2v2h-2zM495.5 233.5h3v3h-3zM505.5 206.5h3v3h-3zM506.5 212.5h2v2h-2zM505.5 215.5h4v4h-4zM505.5 218.5h2v2h-2zM503.5 226.5h2v2h-2zM498.5 228.5h2v2h-2zM493.5 233.5h4v4h-4zM486.5 239.5h4v4h-4zM484.5 241.5h2v2h-2zM471.5 237.5h3v3h-3zM469.5 237.5h3v3h-3zM471.5 245.5h4v4h-4zM476.5 249.5h3v3h-3zM476.5 252.5h4v4h-4zM469.5 249.5h2v2h-2zM467.5 250.5h2v2h-2zM466.5 255.5h3v3h-3zM464.5 257.5h2v2h-2zM456.5 263.5h3v3h-3zM458.5 271.5h2v2h-2zM458.5 275.5h3v3h-3zM457.5 291.5h4v4h-4zM454.5 290.5h3v3h-3zM444.5 288.5h4v4h-4zM442.5 312.5h4v4h-4zM432.5 328.5h3v3h-3zM427.5 339.5h4v4h-4zM420.5 355.5h3v3h-3zM409.5 366.5h3v3h-3zM409.5 370.5h3v3h-3zM612.5 310.5h2v2h-2zM606.5 316.5h4v4h-4zM609.5 323.5h3v3h-3zM609.5 326.5h2v2h-2zM609.5 330.5h2v2h-2zM611.5 332.5h2v2h-2zM614.5 333.5h2v2h-2zM610.5 335.5h2v2h-2zM608.5 339.5h2v2h-2zM610.5 342.5h4v4h-4zM607.5 347.5h2v2h-2zM607.5 350.5h2v2h-2zM610.5 351.5h4v4h-4zM611.5 355.5h2v2h-2zM607.5 360.5h3v3h-3zM606.5 367.5h2v2h-2zM602.5 366.5h4v4h-4zM594.5 368.5h4v4h-4zM593.5 371.5h2v2h-2zM591.5 374.5h4v4h-4zM592.5 380.5h4v4h-4zM597.5 380.5h2v2h-2zM600.5 383.5h2v2h-2zM601.5 386.5h2v2h-2zM596.5 390.5h2v2h-2zM594.5 392.5h2v2h-2zM593.5 394.5h3v3h-3zM397.5 401.5h2v2h-2zM393.5 419.5h2v2h-2zM390.5 457.5h2v2h-2zM413.5 476.5h2v2h-2zM413.5 483.5h3v3h-3zM409.5 491.5h2v2h-2zM402.5 492.5h2v2h-2zM598.5 402.5h3v3h-3zM604.5 406.5h3v3h-3zM607.5 409.5h2v2h-2zM606.5 418.5h2v2h-2zM603.5 422.5h2v2h-2zM601.5 432.5h2v2h-2zM600.5 435.5h3v3h-3zM598.5 434.5h2v2h-2zM594.5 438.5h2v2h-2zM590.5 438.5h3v3h-3zM585.5 442.5h3v3h-3zM588.5 446.5h4v4h-4zM591.5 448.5h4v4h-4zM596.5 447.5h3v3h-3zM601.5 445.5h3v3h-3zM602.5 447.5h2v2h-2zM600.5 453.5h2v2h-2zM602.5 455.5h3v3h-3zM607.5 456.5h4v4h-4zM603.5 461.5h3v3h-3zM600.5 462.5h2v2h-2zM598.5 468.5h2v2h-2zM601.5 470.5h2v2h-2zM603.5 467.5h4v4h-4zM600.5 478.5h2v2h-2zM598.5 481.5h2v2h-2zM602.5 489.5h3v3h-3zM393.5 522.5h3v3h-3zM389.5 526.5h4v4h-4zM394.5 536.5h3v3h-3zM398.5 547.5h3v3h-3zM413.5 573.5h3v3h-3zM417.5 576.5h3v3h-3zM421.5 584.5h3v3h-3z"/>
</g>
<rect x="294" y="71" width="412" height="658" fill="none" stroke="#000" stroke-width="2"/>
</svg>
</body></html>
